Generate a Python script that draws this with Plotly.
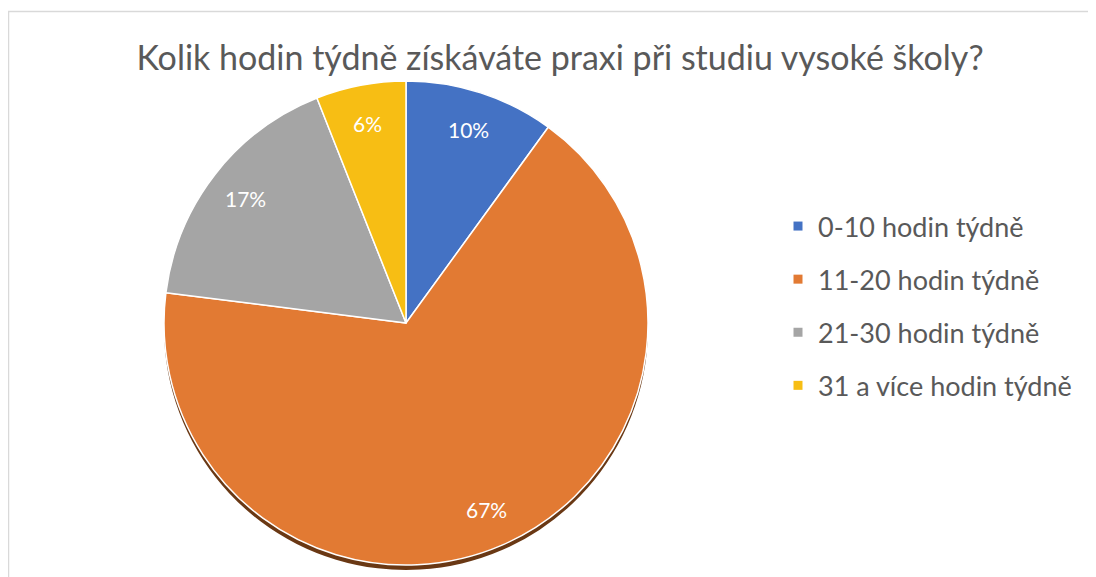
import math
import plotly.graph_objects as go

# data
categories = ['0-10 hodin týdně', '11-20 hodin týdně', '21-30 hodin týdně', '31 a více hodin týdně']
shares = [10, 67, 17, 6]
colors = ['#4472C4', '#E27A33', '#A5A5A5', '#F7BE14']
shadow_colors = ['#27406E', '#6A3814', '#5C5C5C', '#8A6A08']
title_text = 'Kolik hodin týdně získáváte praxi při studiu vysoké školy?'

# the page puts the figure 8px in from the corner
W, H = 1088, 569
FONT = 'Lato, Calibri, sans-serif'
GREY = '#595959'

# pie geometry in figure pixels (centre, radius)
cx, cy, r = 398, 315, 242
shadow_dy = 5
label_frac = 0.84


def px_domain(cx, cy, r):
    return dict(x=[(cx - r) / W, (cx + r) / W],
                y=[1 - (cy + r) / H, 1 - (cy - r) / H])


fig = go.Figure()

# soft shadow under the pie
fig.add_trace(go.Pie(labels=categories, values=shares, sort=False,
                     direction='clockwise', rotation=0,
                     marker=dict(colors=shadow_colors, line=dict(width=0)),
                     textinfo='none', hoverinfo='skip', showlegend=False,
                     domain=px_domain(cx, cy + shadow_dy, r)))

fig.add_trace(go.Pie(labels=categories, values=shares, sort=False,
                     direction='clockwise', rotation=0,
                     marker=dict(colors=colors, line=dict(color='white', width=1.5)),
                     textinfo='none', showlegend=False,
                     domain=px_domain(cx, cy, r)))

# percentage labels out along each slice's bisector, as Excel places them
total = sum(shares)
annotations = []
start = 0
for v in shares:
    mid = (start + v / 2) / total * 2 * math.pi
    start += v
    lx = cx + label_frac * r * math.sin(mid)
    ly = cy - label_frac * r * math.cos(mid)
    annotations.append(dict(x=lx / W, y=1 - ly / H, xref='paper', yref='paper',
                            xanchor='center', yanchor='middle',
                            text=f'{round(100 * v / total)}%', showarrow=False,
                            font=dict(family=FONT, size=21, color='white')))

# legend entries with square markers
for i, (name, col) in enumerate(zip(categories, colors)):
    fig.add_trace(go.Scatter(x=[None], y=[None], mode='markers', name=name,
                             legendgroup=str(i),
                             marker=dict(symbol='square', size=9, color=col)))

fig.update_layout(
    width=W, height=H,
    margin=dict(l=0, r=0, t=0, b=0),
    paper_bgcolor='white', plot_bgcolor='white',
    title=dict(text=title_text, x=552 / W, xanchor='center',
               y=1 - 50 / H, yanchor='middle',
               font=dict(family=FONT, size=34, color=GREY)),
    xaxis=dict(visible=False), yaxis=dict(visible=False),
    legend=dict(x=770 / W, xanchor='left', y=1 - 194 / H, yanchor='top',
                traceorder='grouped', tracegroupgap=15,
                font=dict(family=FONT, size=27, color=GREY),
                bgcolor='rgba(0,0,0,0)'),
    annotations=annotations,
    shapes=[dict(type='rect', xref='paper', yref='paper',
                 x0=0.5 / W, x1=1.05, y0=-0.05, y1=1 - 3.5 / H,
                 line=dict(color='#D9D9D9', width=1.5), layer='below')],
)

fig.write_html('out.html')
